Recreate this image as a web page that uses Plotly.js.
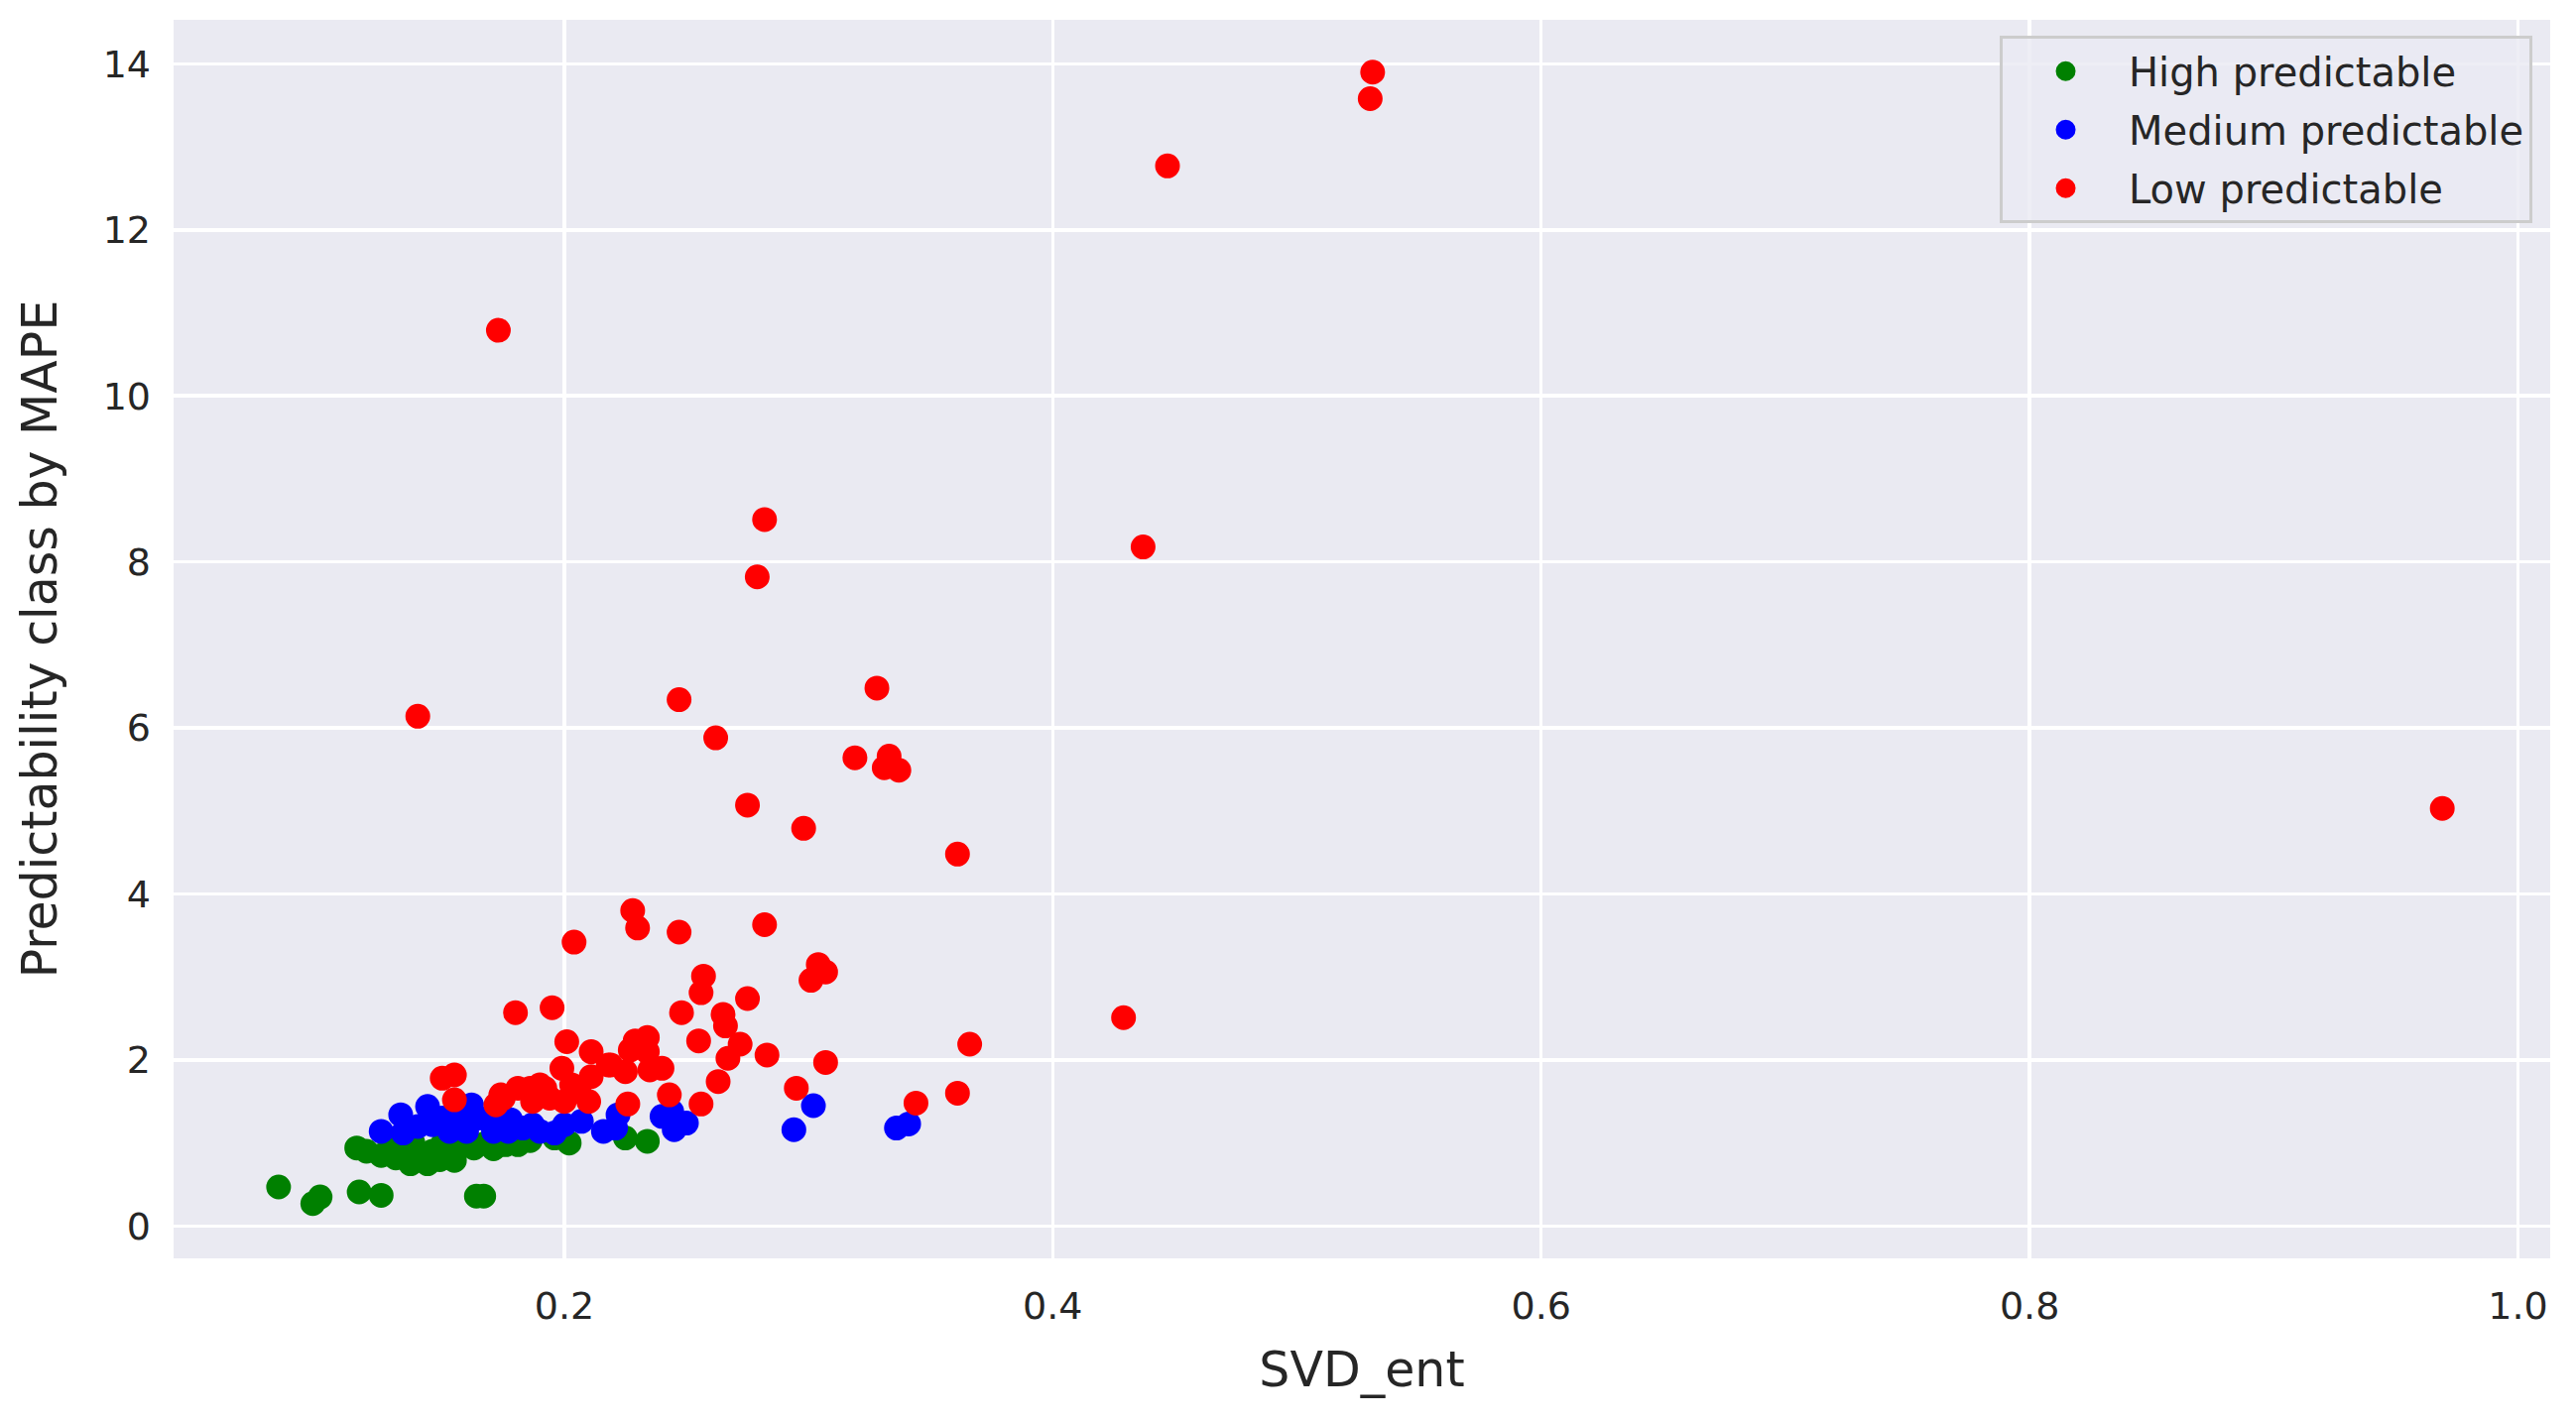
<!DOCTYPE html>
<html>
<head>
<meta charset="utf-8">
<script src="https://cdn.plot.ly/plotly-3.0.1.min.js"></script>
<style>
  html, body { margin: 0; padding: 0; background: #fff; }
  #chart { width: 2597px; height: 1433px; }
</style>
</head>
<body>
<div id="chart"></div>
<script>
// values
var highX = [0.083, 0.097, 0.100, 0.116, 0.125, 0.164, 0.167, 0.115, 0.119, 0.125,
             0.131, 0.137, 0.144, 0.141, 0.146, 0.155, 0.154, 0.163, 0.171, 0.176,
             0.181, 0.196, 0.202, 0.225, 0.234, 0.130, 0.138, 0.150, 0.158, 0.168,
             0.186, 0.135, 0.149];
var highY = [0.47, 0.27, 0.35, 0.41, 0.37, 0.36, 0.36, 0.94, 0.90, 0.85,
             0.82, 0.75, 0.75, 0.87, 0.90, 0.79, 0.90, 0.94, 0.93, 0.98,
             0.98, 1.06, 1.00, 1.06, 1.02, 0.98, 1.00, 0.98, 1.02, 1.00,
             1.03, 0.88, 0.80];

var medX = [0.125, 0.133, 0.134, 0.144, 0.146, 0.153, 0.160, 0.162, 0.165, 0.171,
            0.177, 0.183, 0.190, 0.196, 0.200, 0.207, 0.216, 0.222, 0.221, 0.240,
            0.244, 0.245, 0.250, 0.294, 0.302, 0.336, 0.341, 0.150, 0.157, 0.170,
            0.178, 0.187, 0.140];
var medY = [1.14, 1.34, 1.12, 1.44, 1.22, 1.14, 1.14, 1.46, 1.30, 1.14,
            1.14, 1.18, 1.14, 1.12, 1.22, 1.26, 1.14, 1.34, 1.18, 1.32,
            1.38, 1.16, 1.24, 1.16, 1.45, 1.18, 1.23, 1.30, 1.36, 1.24,
            1.28, 1.22, 1.20];

var lowX = [0.531, 0.530, 0.447, 0.173, 0.282, 0.437, 0.279, 0.140, 0.328, 0.247,
            0.262, 0.319, 0.333, 0.331, 0.337, 0.275, 0.298, 0.361, 0.969, 0.429,
            0.228, 0.230, 0.204, 0.247, 0.282, 0.304, 0.307, 0.301, 0.257, 0.256,
            0.275, 0.248, 0.265, 0.266, 0.180, 0.195, 0.201, 0.255, 0.272, 0.283,
            0.366, 0.307, 0.267, 0.229, 0.234, 0.227, 0.234, 0.211, 0.218, 0.199,
            0.225, 0.240, 0.235, 0.211, 0.263, 0.295, 0.226, 0.243, 0.256, 0.344,
            0.361, 0.210, 0.203, 0.190, 0.181, 0.187, 0.174, 0.194, 0.150, 0.155,
            0.155, 0.172, 0.175, 0.186, 0.192, 0.200, 0.206, 0.219];
var lowY = [13.90, 13.58, 12.77, 10.79, 8.51, 8.18, 7.82, 6.14, 6.48, 6.34,
            5.88, 5.64, 5.66, 5.52, 5.49, 5.07, 4.79, 4.48, 5.03, 2.51,
            3.80, 3.59, 3.42, 3.54, 3.63, 3.15, 3.06, 2.96, 3.01, 2.81,
            2.74, 2.57, 2.55, 2.41, 2.57, 2.63, 2.22, 2.23, 2.19, 2.06,
            2.19, 1.97, 2.02, 2.23, 2.27, 2.12, 2.10, 2.10, 1.94, 1.90,
            1.86, 1.90, 1.88, 1.80, 1.74, 1.66, 1.47, 1.58, 1.47, 1.48,
            1.60, 1.50, 1.70, 1.70, 1.66, 1.50, 1.58, 1.54, 1.78, 1.82,
            1.52, 1.46, 1.54, 1.66, 1.66, 1.50, 1.62, 1.94];

var seriesNames = ["High predictable", "Medium predictable", "Low predictable"];
var seriesColors = ["green", "blue", "red"];

function pts(x, y, i) {
  return {
    x: x, y: y,
    type: "scatter",
    mode: "markers",
    name: seriesNames[i],
    legendgroup: "g" + i,
    // a same-colour outline makes the legend dot bigger too
    marker: {color: seriesColors[i], size: 21, line: {width: 4, color: seriesColors[i]}}
  };
}

var data = [pts(highX, highY, 0), pts(medX, medY, 1), pts(lowX, lowY, 2)];

var tickFont = {family: "DejaVu Sans", size: 38, color: "#262626"};

var layout = {
  width: 2597,
  height: 1433,
  paper_bgcolor: "#ffffff",
  plot_bgcolor: "#eaeaf2",
  margin: {l: 175, r: 26, t: 20, b: 164},
  showlegend: true,
  legend: {
    x: 0.9925, y: 0.987, xanchor: "right", yanchor: "top",
    bgcolor: "rgba(234,234,242,0.8)",
    bordercolor: "#cccccc",
    borderwidth: 3,
    traceorder: "grouped",
    tracegroupgap: 4,
    itemwidth: 117,
    font: {family: "DejaVu Sans", size: 40, color: "#262626"}
  },
  xaxis: {
    range: [0.040, 1.0132],
    tickvals: [0.2, 0.4, 0.6, 0.8, 1.0],
    tickformat: ".1f",
    showgrid: true, gridcolor: "#ffffff", gridwidth: 3.5,
    zeroline: false, showline: false,
    ticks: "", ticklabelstandoff: 22,
    tickfont: tickFont,
    title: {text: "SVD_ent", font: {family: "DejaVu Sans", size: 49, color: "#262626"}, standoff: 25}
  },
  yaxis: {
    range: [-0.39, 14.53],
    tickvals: [0, 2, 4, 6, 8, 10, 12, 14],
    showgrid: true, gridcolor: "#ffffff", gridwidth: 3.5,
    zeroline: false, showline: false,
    ticks: "", ticklabelstandoff: 22,
    tickfont: tickFont,
    title: {text: "Predictability class by MAPE", font: {family: "DejaVu Sans", size: 49, color: "#262626"}, standoff: 30}
  }
};

Plotly.newPlot("chart", data, layout, {displayModeBar: false, staticPlot: true});
</script>
</body>
</html>
